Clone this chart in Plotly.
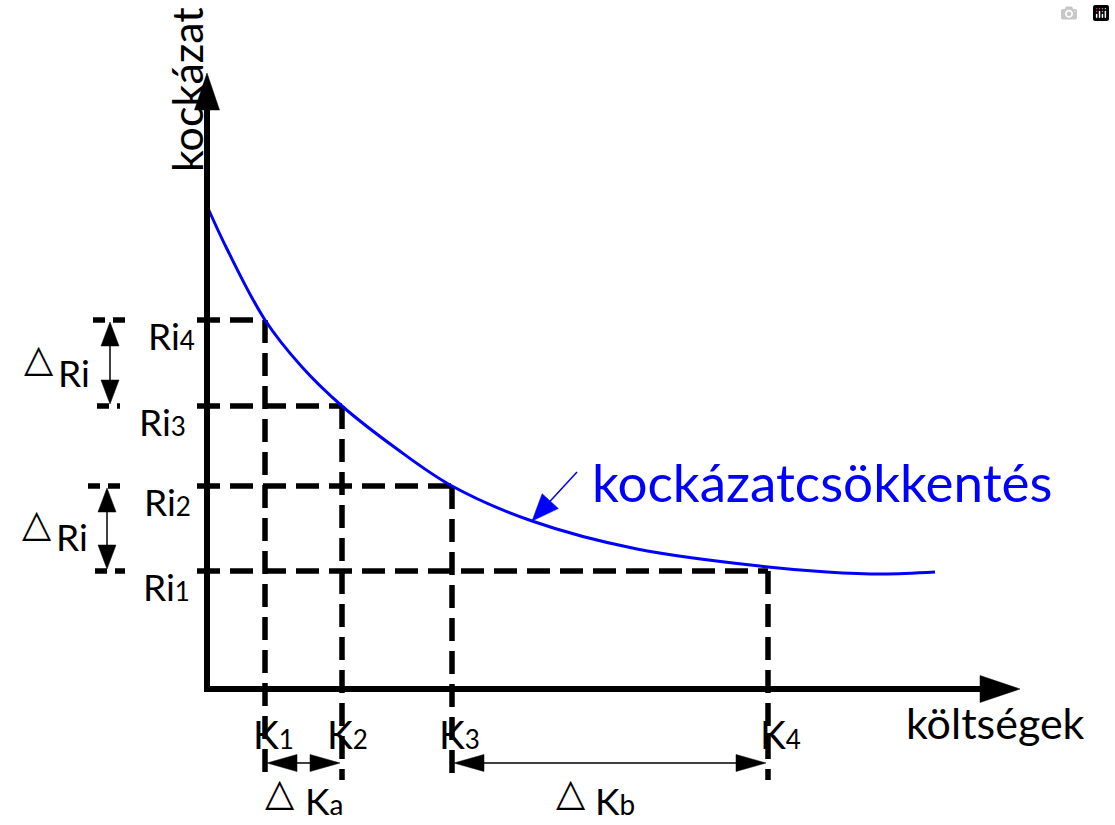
import math
import plotly.graph_objects as go

# ---- data (cost on x, risk on y; units measured from the origin) ----
K_names = ["1", "2", "3", "4"]
K_values = [58, 135, 245, 561]          # K1..K4 (költségek)
Ri_names = ["1", "2", "3", "4"]
Ri_values = [118, 203, 283, 369]        # Ri1..Ri4 (kockázat)
# pairs: K1-Ri4, K2-Ri3, K3-Ri2, K4-Ri1
curve_cost = [0, 20, 58, 95, 135, 190, 245, 325, 430, 561, 620, 676, 728]
curve_risk = [483, 440, 369, 322, 283, 240, 203, 168, 140, 122, 117, 115, 117]
x_axis_end = 813
y_axis_end = 616
x_min, x_max = -207, 908
y_min, y_max = -136, 689

BLACK = "#000000"
BLUE = "#0000FF"
FONT = "Lato, 'DejaVu Sans', sans-serif"
TRI_FONT = "'DejaVu Sans', sans-serif"

fig = go.Figure()


def line(xs, ys, color=BLACK, width=5, dash=None):
    fig.add_trace(go.Scatter(x=xs, y=ys, mode="lines",
                             line=dict(color=color, width=width, dash=dash),
                             hoverinfo="skip", showlegend=False))


def head(tx, ty, ux, uy, L, W, color=BLACK):
    n = math.hypot(ux, uy)
    ux, uy = ux / n, uy / n
    bx, by = tx - ux * L, ty - uy * L
    px, py = -uy, ux
    xs = [tx, bx + px * W / 2, bx - px * W / 2, tx]
    ys = [ty, by + py * W / 2, by - py * W / 2, ty]
    fig.add_trace(go.Scatter(x=xs, y=ys, mode="lines", fill="toself",
                             fillcolor=color, line=dict(color=color, width=0.5),
                             hoverinfo="skip", showlegend=False))


DASH = "23px,10px"
pairs = [(K_values[0], Ri_values[3]), (K_values[1], Ri_values[2]),
         (K_values[2], Ri_values[1]), (K_values[3], Ri_values[0])]
for k, r in pairs:
    line([-10, k], [r, r], width=5.5, dash=DASH)       # horizontal
    line([k, k], [r, -91], width=5.5, dash=DASH)       # vertical

# left stubs near the ΔRi arrows
stub_start = [-112, -119, -110, -114]
stub_end = [-82, -82, -87, -79]
for s, e, r in zip(stub_start, stub_end, Ri_values):
    line([s, e], [r, r], width=5.5, dash="12px,8px")

# blue curve
fig.add_trace(go.Scatter(x=curve_cost, y=curve_risk, mode="lines",
                         line=dict(color=BLUE, width=3, shape="spline", smoothing=1.0),
                         hoverinfo="skip", showlegend=False))

# axes
line([0, 0, x_axis_end - 40], [y_axis_end - 37, 0, 0], width=6)
head(0, y_axis_end, 0, 1, 37, 25)
head(x_axis_end, 0, 1, 0, 40, 27)

# ΔRi double arrows
for xa, top, bot in [(-97, Ri_values[3], Ri_values[2]), (-100, Ri_values[1], Ri_values[0])]:
    line([xa, xa], [top - 20, bot + 20], width=1.5)
    head(xa, top - 2, 0, 1, 24, 18)
    head(xa, bot + 2, 0, -1, 24, 18)

# ΔK double arrows
for a, b in [(K_values[0], K_values[1]), (K_values[2], K_values[3])]:
    line([a + 25, b - 25], [-74, -74], width=1.5)
    head(a + 2, -74, -1, 0, 30, 17)
    head(b - 2, -74, 1, 0, 30, 17)

# blue pointer arrow
line([370, 335], [217, 179], color=BLUE, width=1.5)
head(325, 168, -45, -49, 27, 22, color=BLUE)

# ---- text ----
def ann(x, y, text, size, color=BLACK, xanchor="left", yanchor="middle", family=FONT, angle=0):
    fig.add_annotation(x=x, y=y, text=text, showarrow=False, xanchor=xanchor,
                       yanchor=yanchor, textangle=angle,
                       font=dict(family=family, size=size, color=color))


def sub(s, size):
    return f"<span style='font-size:{size}px'>{s}</span>"

ann(-21, 599, "kockázat", 43, xanchor="center", angle=-90)
ann(697, -33, "költségek", 43)
ann(383, 208, "kockázatcsökkentés", 53, color=BLUE)

ri_left = [-66, -65, -70, -61]
for name, r, xl in zip(Ri_names, Ri_values, ri_left):
    ann(xl, r - 15, "Ri" + sub(name, 26), 37)

k_left = [44, 118, 230, 551]
for name, k, xl in zip(K_names, K_values, k_left):
    ann(xl, -45, "K" + sub(name, 26), 39)

# Δ labels
for yt, yr, xt, xr in [(331, 317, -168, -151), (166, 153, -170, -153)]:
    ann(xt, yt, "△", 38, family=TRI_FONT, xanchor="center")
    ann(xr, yr, "Ri", 37)
for xt, xr, sname in [(73, 96, "a"), (364, 386, "b")]:
    ann(xt, -103, "△", 38, family=TRI_FONT, xanchor="center")
    ann(xr, -136, "K" + sub(sname, 28), 37, yanchor="bottom")

fig.update_layout(
    width=1115, height=825,
    margin=dict(l=0, r=0, t=0, b=0),
    paper_bgcolor="white", plot_bgcolor="white",
    xaxis=dict(range=[x_min, x_max], visible=False, fixedrange=True),
    yaxis=dict(range=[y_min, y_max], visible=False, fixedrange=True),
    showlegend=False,
)

fig.write_html("out.html", post_script="document.body.style.margin='0';document.body.style.overflow='hidden';")
